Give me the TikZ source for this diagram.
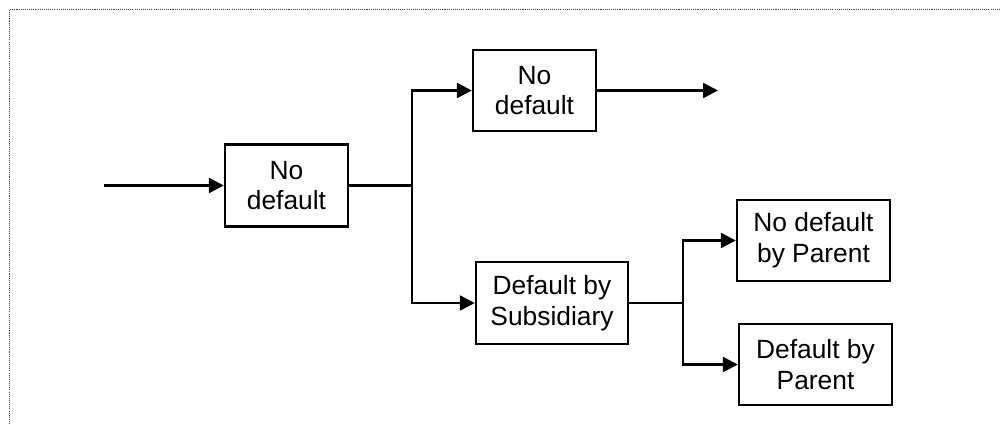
\documentclass[tikz,border=0pt]{standalone}
\usepackage{fontspec}
\setmainfont{Liberation Sans}
\usetikzlibrary{arrows.meta}

\tikzset{
  box/.style={draw, line width=1.4pt, align=center, inner sep=0pt,
    font=\fontsize{15}{17.5}\selectfont},
  narrowbox/.style={box, minimum width=24.6mm, minimum height=16.4mm},
  widebox/.style={box, minimum width=30.6mm, minimum height=16.3mm},
  arr/.style={line width=1.4pt, -{Triangle[length=3mm,width=3mm]}},
  link/.style={line width=1.4pt}
}

\begin{document}
\begin{tikzpicture}[x=0.02cm, y=-0.02cm]

\useasboundingbox (0,0) rectangle (1000,424);

% ===== Frame (dotted, top and left) =====
\draw[line width=0.9pt, black!75, dash pattern=on 0.6pt off 0.6pt] (1000,9.5) -- (9.5,9.5) -- (9.5,424);

% ===== Boxes =====
\node[narrowbox] (start) at (286.5,185.5) {No\\default};
\node[narrowbox, minimum height=16.2mm] (upper) at (534.5,90.5) {No\\default};
\node[box, minimum width=30.4mm, minimum height=16.4mm] (subsid) at (552,303) {Default by\\Subsidiary};
\node[widebox] (nopar) at (813.5,240.5) {No default\\by Parent};
\node[widebox] (par) at (815.5,364.5) {Default by\\Parent};

% ===== Free ends and forks =====
\coordinate (in) at (104,185.5);
\coordinate (out) at (718,90.5);
\coordinate (fork1) at (412,185.5);
\coordinate (fork2) at (683,303);

% ===== Connectors =====
\draw[arr] (in) -- (start);
\draw[link] (start) -- (fork1);
\draw[arr] (fork1) |- (upper);
\draw[arr] (fork1) |- (subsid);
\draw[arr] (upper) -- (out);

\draw[link] (subsid) -- (fork2);
\draw[arr] (fork2) |- (nopar);
\draw[arr] (fork2) |- (par);

\end{tikzpicture}
\end{document}
